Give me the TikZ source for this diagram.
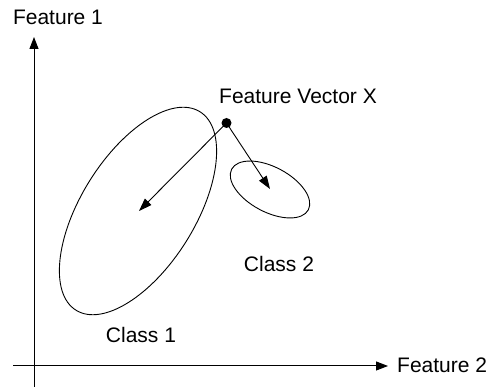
\documentclass[tikz,border=0pt]{standalone}
\usepackage{fontspec}
\setmainfont{Liberation Sans}
\usetikzlibrary{arrows.meta}
\begin{document}
\begin{tikzpicture}[x=1pt,y=1pt,
  lbl/.style={inner sep=0pt,font=\fontsize{21}{25}\selectfont},
  axis/.style={line width=1pt,-{Triangle[length=12pt,width=9pt]}},
  vec/.style={line width=0.9pt,-{Triangle[length=13pt,width=9pt]}},
  cls/.style={line width=0.9pt},
  dotst/.style={circle,fill=black,inner sep=0pt,minimum size=10pt}]
\useasboundingbox (0,0) rectangle (490,387);
% axes
\coordinate (vbot) at (34,0);
\coordinate (vtop) at (34,350);
\coordinate (hleft) at (13,21);
\coordinate (hright) at (388,21);
\draw[axis] (vbot) -- (vtop);
\draw[axis] (hleft) -- (hright);
\node[lbl] (f1) at (58,370) {Feature 1};
\node[lbl,anchor=west] (f2) at (397,22) {Feature 2};
% classes
\coordinate (c1) at (139,176);
\coordinate (c2) at (270,198);
\draw[cls,rotate around={58:(138,176)}] (138,176) ellipse [x radius=117, y radius=57];
\draw[cls,rotate around={-28:(270,197.5)}] (270,197.5) ellipse [x radius=43.4, y radius=22.5];
\node[lbl] (cl1) at (141,52) {Class 1};
\node[lbl] (cl2) at (279,123) {Class 2};
% feature vector
\node[dotst] (x) at (226.5,264) {};
\node[lbl] (fx) at (298,291) {Feature Vector X};
\draw[vec] (x.center) -- (c1);
\draw[vec] (x.center) -- (c2);
\end{tikzpicture}
\end{document}
